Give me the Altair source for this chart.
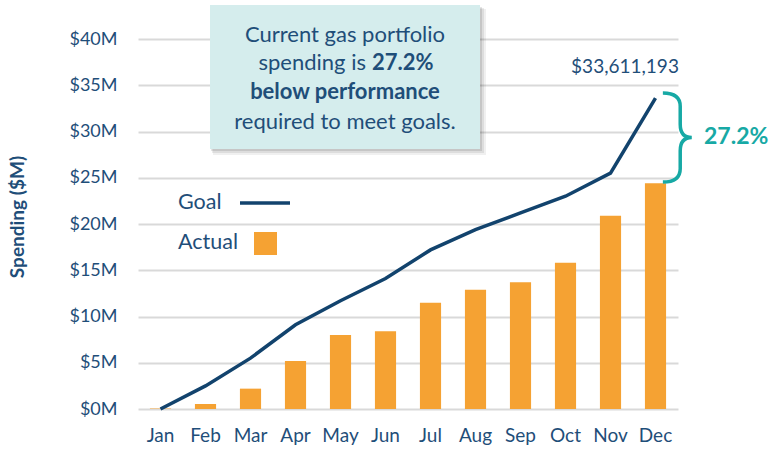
import altair as alt
import pandas as pd

months = ["Jan", "Feb", "Mar", "Apr", "May", "Jun", "Jul", "Aug", "Sep", "Oct", "Nov", "Dec"]
goal = [0.0, 2.5, 5.5, 9.1, 11.7, 14.1, 17.2, 19.4, 21.2, 23.0, 25.5, 33.611193]
actual = [0.05, 0.55, 2.2, 5.2, 8.0, 8.4, 11.5, 12.9, 13.7, 15.8, 20.9, 24.4]
y_ticks = [0, 5, 10, 15, 20, 25, 30, 35, 40]

FONT = "Lato"
NAVY = "#1f4e79"
LINE = "#12436d"
ORANGE = "#f5a233"
TEAL = "#17a9a5"
BOX = "#d5eded"

df = pd.DataFrame({"month": months, "goal": goal, "actual": actual})
one = pd.DataFrame({"k": [0]})

x_enc = alt.X(
    "month:N", sort=months, title=None,
    scale=alt.Scale(paddingInner=0.53, paddingOuter=0.265),
    axis=alt.Axis(labelFont=FONT, labelFontSize=19, labelColor=NAVY, labelAngle=0,
                  ticks=False, domain=False, labelPadding=17, grid=False),
)
y_scale = alt.Scale(domain=[0, 40], nice=False)

bars = alt.Chart(df).mark_bar(color=ORANGE).encode(
    x=x_enc,
    y=alt.Y("actual:Q", scale=y_scale, title=None,
            axis=alt.Axis(values=y_ticks, labelExpr="'$' + datum.value + 'M'",
                          labelFont=FONT, labelFontSize=18, labelColor=NAVY,
                          ticks=False, domain=False, labelPadding=21,
                          grid=True, gridColor="#d9d9d9", gridWidth=2)),
)

line = alt.Chart(df).mark_line(color=LINE, strokeWidth=3.5).encode(
    x=alt.X("month:N", sort=months),
    y=alt.Y("goal:Q", scale=y_scale),
)

def txt(s, x, y, size=16, weight="normal", color=NAVY, align="center", angle=0):
    kw = dict(text=s, font=FONT, fontSize=size, fontWeight=weight, color=color,
              align=align, baseline="middle")
    if angle:
        kw["angle"] = angle
    return alt.Chart(one).mark_text(**kw).encode(x=alt.value(x), y=alt.value(y))

OX, OY = 138, 39

def rect(x1, y1, x2, y2, color, opacity=1.0):
    return alt.Chart(one).mark_rect(color=color, opacity=opacity).encode(
        x=alt.value(x1 - OX), x2=alt.value(x2 - OX),
        y=alt.value(y1 - OY), y2=alt.value(y2 - OY))

shadow = [
    rect(213, 9, 486, 155, "#000000", 0.06),
    rect(212, 8, 484, 153, "#000000", 0.08),
    rect(211, 7, 482, 151, "#000000", 0.10),
]
box = rect(210, 5, 480, 149, BOX)

box_text = [
    txt("Current gas portfolio", 345 - OX, 35 - OY, size=22),
    txt("spending is", 366 - OX, 63 - OY, size=22, align="right"),
    txt("27.2%", 372 - OX, 63 - OY, size=22, weight="bold", align="left"),
    txt("below performance", 345 - OX, 92 - OY, size=22, weight="bold"),
    txt("required to meet goals.", 345 - OX, 122 - OY, size=22),
]

brace_path = ("M -0.34 -1 Q 0.05 -1 0.05 -0.7 L 0.05 -0.3 Q 0.05 0 0.31 0 "
              "Q 0.05 0 0.05 0.3 L 0.05 0.7 Q 0.05 1 -0.34 1")
brace = alt.Chart(one).mark_point(shape=brace_path, filled=False, stroke=TEAL,
                                  strokeWidth=3.5, size=7921, opacity=1).encode(
    x=alt.value(678 - OX), y=alt.value(137.5 - OY))

annot = [
    txt("$33,611,193", 625 - OX, 67 - OY, size=19),
    txt("27.2%", 704 - OX, 137 - OY, size=23, weight="bold", color=TEAL, align="left"),
    txt("Spending ($M)", 18 - OX, 217 - OY, size=19, weight="bold", angle=270),
    txt("Goal", 178 - OX, 203 - OY, size=21.5, align="left"),
    txt("Actual", 178 - OX, 243 - OY, size=21.5, align="left"),
]

leg_line = alt.Chart(one).mark_rule(color=LINE, strokeWidth=3.5).encode(
    x=alt.value(240 - OX), x2=alt.value(290 - OX), y=alt.value(203 - OY))
leg_sq = rect(254, 232, 277, 255, ORANGE)

chart = alt.layer(
    bars, line, *shadow, box, *box_text, brace, *annot, leg_line, leg_sq
).properties(
    width=540, height=370,
    padding={"left": OX, "top": OY, "right": 92, "bottom": 41},
    autosize=alt.AutoSizeParams(type="none"),
    background="white",
).configure_view(stroke=None)

chart.save("out.html", embed_options={"renderer": "svg", "actions": False})
